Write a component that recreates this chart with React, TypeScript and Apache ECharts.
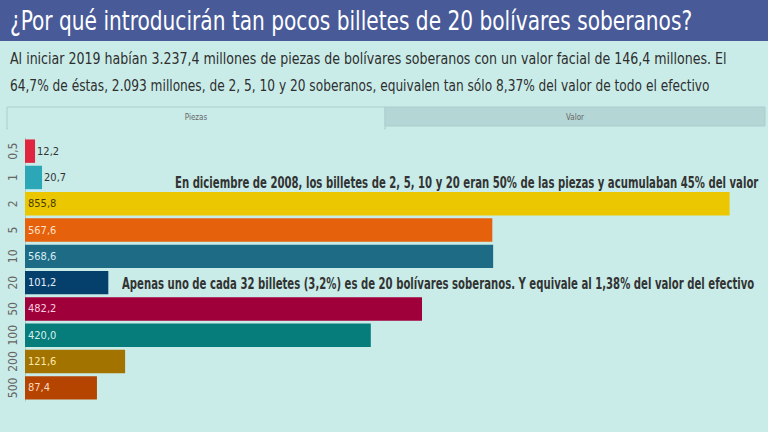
import React, { useEffect, useRef } from "react";
import * as echarts from "echarts";

const title = "¿Por qué introducirán tan pocos billetes de 20 bolívares soberanos?";
const subtitle1 = "Al iniciar 2019 habían 3.237,4 millones de piezas de bolívares soberanos con un valor facial de 146,4 millones. El";
const subtitle2 = "64,7% de éstas, 2.093 millones, de 2, 5, 10 y 20 soberanos, equivalen tan sólo 8,37% del valor de todo el efectivo";
const tabs = ["Piezas", "Valor"];
const note1 = "En diciembre de 2008, los billetes de 2, 5, 10 y 20 eran 50% de las piezas y acumulaban 45% del valor";
const note2 = "Apenas uno de cada 32 billetes (3,2%) es de 20 bolívares soberanos. Y equivale al 1,38% del valor del efectivo";

const categories = ["0,5", "1", "2", "5", "10", "20", "50", "100", "200", "500"];
const values = [12.2, 20.7, 855.8, 567.6, 568.6, 101.2, 482.2, 420.0, 121.6, 87.4];
const barColors = ["#e0263f", "#2ba7b7", "#eac700", "#e6610b", "#1e6b86", "#053f6b", "#a0003a", "#067c7b", "#a37300", "#b54400"];
const labelColors = ["#333", "#333", "#4a3b00", "#fde0c8", "#d8eef3", "#e6eef8", "#f8cfe0", "#d6f2ef", "#fbe9a8", "#fbd9bf"];
const insideLabel = [false, false, true, true, true, true, true, true, true, true];

const FONT = "'DejaVu Sans Condensed', 'Roboto', sans-serif";

export default function App() {
  const ref = useRef<HTMLDivElement>(null);
  useEffect(() => {
    if (!ref.current) return;
    const chart = echarts.init(ref.current, null, { renderer: "svg" });
    chart.setOption({
      animation: false,
      backgroundColor: "#c9ece9",
      textStyle: { fontFamily: FONT },
      grid: { left: 25, right: 2, top: 138, bottom: 31, containLabel: false },
      xAxis: {
        type: "value",
        min: 0,
        max: 900,
        show: false,
      },
      yAxis: {
        type: "category",
        data: categories,
        inverse: true,
        axisLine: { show: true, lineStyle: { color: "#b7c9c8", width: 1 } },
        axisTick: { show: false },
        axisLabel: {
          interval: 0,
          rotate: 90,
          color: "#666",
          fontSize: 12,
          fontFamily: "'DejaVu Sans Condensed', sans-serif",
          margin: 6,
        },
      },
      series: [
        {
          type: "bar",
          barCategoryGap: "11%",
          data: values.map((v, i) => ({
            value: v,
            itemStyle: { color: barColors[i] },
            label: {
              show: true,
              position: insideLabel[i] ? "insideLeft" : "right",
              distance: insideLabel[i] ? 3 : 2,
              color: labelColors[i],
              fontSize: 11,
              fontFamily: FONT,
              formatter: (p: any) => p.value.toFixed(1).replace(".", ","),
            },
          })),
        },
      ],
      graphic: [
        { type: "rect", shape: { x: 0, y: 0, width: 768, height: 41 }, style: { fill: "#485a98" } },
        {
          type: "text",
          x: 10,
          y: 21,
          scaleX: 0.83,
          style: { text: title, fill: "#ffffff", font: `27px ${FONT}`, textVerticalAlign: "middle" },
        },
        {
          type: "text",
          x: 10,
          y: 58,
          scaleX: 0.905,
          style: { text: subtitle1, fill: "#2e2e2e", font: `15.5px ${FONT}`, textVerticalAlign: "middle" },
        },
        {
          type: "text",
          x: 10,
          y: 85,
          scaleX: 0.875,
          style: { text: subtitle2, fill: "#2e2e2e", font: `15.5px ${FONT}`, textVerticalAlign: "middle" },
        },
        {
          type: "rect",
          shape: { x: 7, y: 107, width: 378, height: 22 },
          style: { fill: "#c9ece9", stroke: "#a9cfcc", lineWidth: 1 },
        },
        { type: "rect", shape: { x: 385, y: 107, width: 380, height: 19 }, style: { fill: "#b4d6d4", stroke: "#a9cfcc", lineWidth: 1 } },
        { type: "rect", shape: { x: 8, y: 126, width: 376, height: 4 }, style: { fill: "#c9ece9" } },
        {
          type: "text",
          x: 196,
          y: 117,
          style: { text: tabs[0], fill: "#666", font: `8px ${FONT}`, textAlign: "center", textVerticalAlign: "middle" },
        },
        {
          type: "text",
          x: 575,
          y: 117,
          style: { text: tabs[1], fill: "#666", font: `8px ${FONT}`, textAlign: "center", textVerticalAlign: "middle" },
        },
        {
          type: "text",
          x: 175,
          y: 183,
          scaleX: 0.75,
          style: { text: note1, fill: "#333", font: `bold 15px ${FONT}`, textVerticalAlign: "middle" },
        },
        {
          type: "text",
          x: 122,
          y: 284,
          scaleX: 0.75,
          style: { text: note2, fill: "#333", font: `bold 15px ${FONT}`, textVerticalAlign: "middle" },
        },
      ],
    });
    return () => chart.dispose();
  }, []);
  return <div ref={ref} style={{ width: 768, height: 432, position: "fixed", left: 0, top: 0 }} />;
}
